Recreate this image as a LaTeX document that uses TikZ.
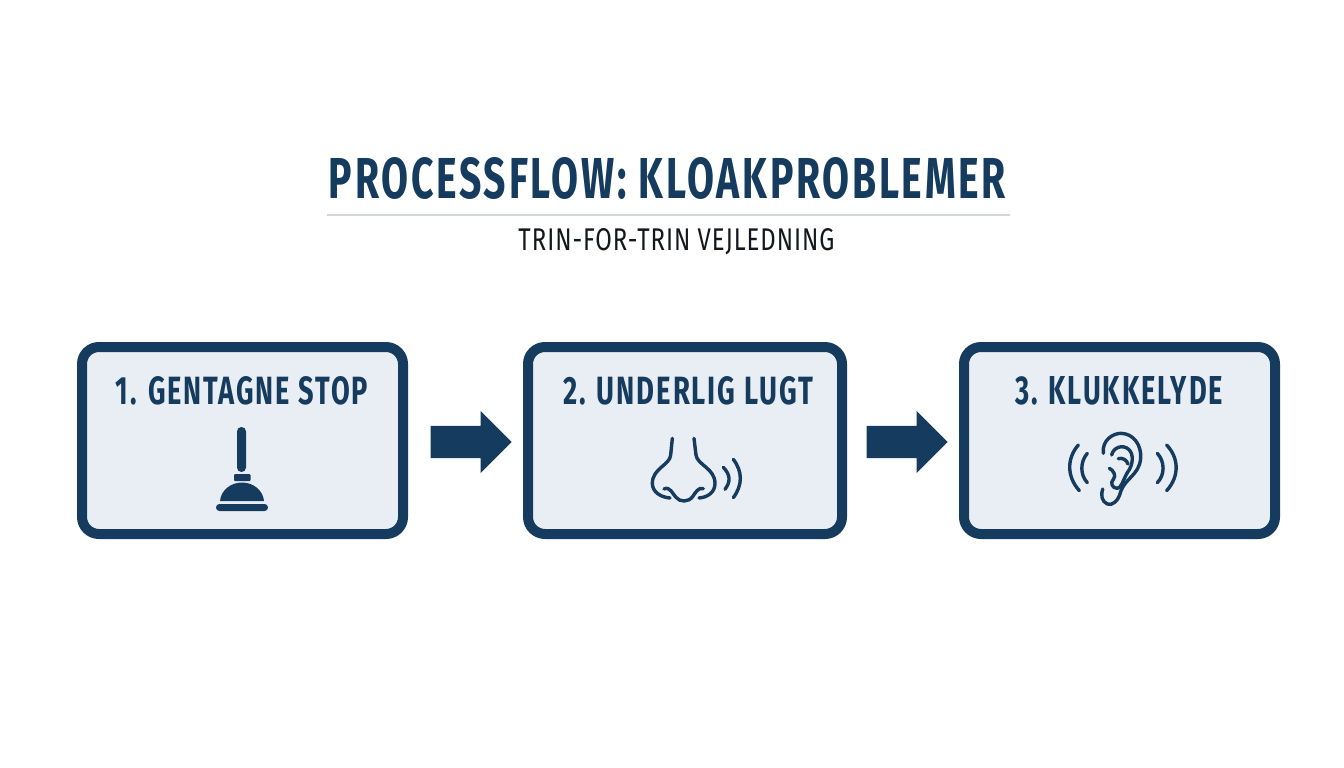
\documentclass[tikz,border=0pt]{standalone}
\usepackage{fontspec}
\usepackage{graphicx}
\setmainfont{Fira Sans}
\newfontfamily\headfont[LetterSpace=7,BoldFont={* Bold}]{Fira Sans}
\newfontfamily\subfont[LetterSpace=4]{Fira Sans}
\usetikzlibrary{shapes.arrows}
\definecolor{navy}{HTML}{153B5E}
\definecolor{panel}{HTML}{E9EEF5}
\definecolor{rulegrey}{HTML}{D3D6DA}
\definecolor{subink}{HTML}{14181C}
\newcommand{\fit}[3]{\resizebox{#1pt}{#2pt}{#3}}
\tikzset{
  panelbox/.style={draw=navy,fill=panel,line width=10pt,rounded corners=17pt,minimum width=#1,minimum height=187pt,inner sep=0pt},
  flowarrow/.style={shape=single arrow,fill=navy,draw=none,anchor=tip,inner xsep=0pt,inner ysep=16pt,minimum height=81pt,single arrow head extend=15pt,single arrow tip angle=90,single arrow head indent=0pt},
  txt/.style={inner sep=0pt,outer sep=0pt,text=navy,font=\headfont\bfseries},
  iconline/.style={draw=navy,line width=3.4pt,line cap=round,line join=round},
  iconfill/.style={fill=navy,draw=none},
  zoomed/.style={shift={#1},x=0.3333pt,y=-0.3333pt}
}
\begin{document}
\begin{tikzpicture}[x=1pt,y=-1pt]
\useasboundingbox[fill=white] (0,0) rectangle (1344,768);
% heading
\node[txt] (title) at (667.5,178.5) {\fit{677}{41}{PROCESSFLOW: KLOAKPROBLEMER}};
\coordinate (ruleL) at (327,215);
\coordinate (ruleR) at (1010,215);
\draw[rulegrey,line width=2.6pt] (ruleL) -- (ruleR);
\node[txt,text=subink,font=\subfont] (sub) at (676.5,242) {\fit{316}{22}{TRIN-FOR-TRIN VEJLEDNING}};
% panels
\node[panelbox=321pt] (box1) at (242.5,440.5) {};
\node[panelbox=314pt] (box2) at (685,440.5) {};
\node[panelbox=311pt] (box3) at (1119.5,440.5) {};
\node[txt] (lab1) at (242,391) {\fit{252}{28}{1. GENTAGNE STOP}};
\node[txt] (lab2) at (688,391) {\fit{250}{28}{2. UNDERLIG LUGT}};
\node[txt] (lab3) at (1119,391) {\fit{208}{28}{3. KLUKKELYDE}};
% arrows
\node[flowarrow] (arr1) at (512,442) {};
\node[flowarrow] (arr2) at (948,442) {};
% plunger
\fill[iconfill,rounded corners=4.4pt] (237,427) rectangle (246,472);
\fill[iconfill,rounded corners=1pt] (234,474) rectangle (250.5,481);
\fill[iconfill] (220,501) .. controls (221,490) and (231,482.5) .. (242,482.5) .. controls (253,482.5) and (263,490) .. (264,501) -- cycle;
\fill[iconfill,rounded corners=3.4pt] (216,504) rectangle (268,511);
% nose
\begin{scope}[zoomed={(620,420)}]
\draw[iconline] (157,55) -- (152,105) .. controls (150,135) and (97,145) .. (97,190) .. controls (97,218) and (125,232) .. (150,234);
\draw[iconline] (222,55) -- (228,105) .. controls (232,135) and (285,145) .. (285,190) .. controls (285,218) and (262,232) .. (237,234);
\draw[iconline] (132,207) .. controls (150,198) and (158,222) .. (168,232) .. controls (180,247) and (205,247) .. (218,230) .. controls (225,220) and (235,200) .. (250,206);
\draw[iconline] (310,142) .. controls (332,165) and (332,185) .. (315,208);
\draw[iconline] (340,118) .. controls (368,155) and (368,195) .. (340,233);
\end{scope}
% ear
\begin{scope}[zoomed={(1050,420)}]
\draw[iconline] (160,100) .. controls (155,60) and (190,40) .. (212,40) .. controls (250,40) and (275,75) .. (272,115) .. controls (268,165) and (225,175) .. (212,215) .. controls (205,245) and (185,258) .. (172,252) .. controls (155,245) and (152,225) .. (158,207);
\draw[iconline] (185,105) .. controls (190,82) and (218,72) .. (236,88) .. controls (252,102) and (250,135) .. (232,158);
\draw[iconline] (205,116) .. controls (218,112) and (230,120) .. (234,132);
\draw[iconline] (178,145) .. controls (190,150) and (200,168) .. (190,178) .. controls (180,188) and (186,205) .. (202,205) .. controls (214,205) and (218,182) .. (232,158);
\draw[iconline] (85,75) .. controls (50,115) and (50,170) .. (88,212);
\draw[iconline] (112,100) .. controls (90,125) and (90,165) .. (112,188);
\draw[iconline] (350,75) .. controls (388,115) and (388,170) .. (350,212);
\draw[iconline] (322,100) .. controls (345,125) and (345,165) .. (322,188);
\end{scope}
\end{tikzpicture}
\end{document}
